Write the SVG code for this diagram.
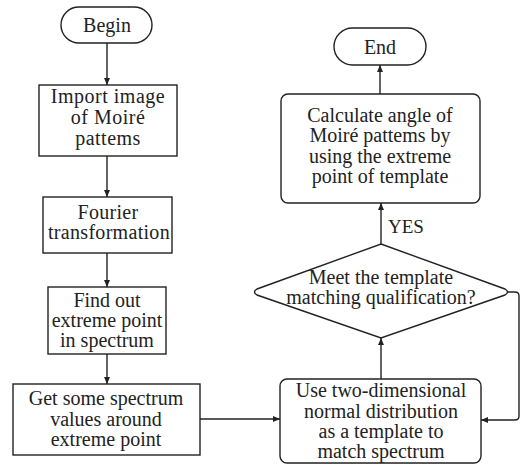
<svg xmlns="http://www.w3.org/2000/svg" width="521" height="466" viewBox="0 0 521 466">
  <defs>
    <style>
      .shape { fill: #fff; stroke: #222; stroke-width: 1.4; }
      .conn { fill: none; stroke: #222; stroke-width: 1.4; }
      text { font-family: "Liberation Serif", "Times New Roman", serif; font-size: 20px; fill: #222; text-anchor: middle; }
    </style>
    <marker id="arr" markerWidth="8" markerHeight="8" refX="7" refY="4" orient="auto" markerUnits="userSpaceOnUse">
      <path d="M0,1 L7,4 L0,7 Z" fill="#222"/>
    </marker>
  </defs>
  <rect width="521" height="466" fill="#fff"/>

  <g id="connectors">
    <line class="conn" x1="107" y1="43" x2="107" y2="85" marker-end="url(#arr)"/>
    <line class="conn" x1="107" y1="156" x2="107" y2="197" marker-end="url(#arr)"/>
    <line class="conn" x1="107" y1="253" x2="107" y2="287" marker-end="url(#arr)"/>
    <line class="conn" x1="107" y1="354" x2="107" y2="384" marker-end="url(#arr)"/>
    <line class="conn" x1="200" y1="419" x2="280" y2="419" marker-end="url(#arr)"/>
    <line class="conn" x1="381" y1="379" x2="381" y2="338" marker-end="url(#arr)"/>
    <line class="conn" x1="381" y1="244" x2="381" y2="203" marker-end="url(#arr)"/>
    <line class="conn" x1="380" y1="94" x2="380" y2="65" marker-end="url(#arr)"/>
    <path class="conn" d="M508,292 H515 Q519,292 519,296 V416 Q519,420 515,420 H481" marker-end="url(#arr)"/>
    <text x="406" y="233" style="font-size:19px">YES</text>
  </g>

  <g id="begin">
    <rect class="shape" x="61" y="7" width="91" height="36" rx="18" ry="18"/>
    <text x="107" y="32">Begin</text>
  </g>

  <g id="import">
    <rect class="shape" x="39" y="85" width="138" height="71"/>
    <text x="108" y="103" letter-spacing="0.5">Import image</text>
    <text x="108" y="124" letter-spacing="0.5">of Moiré</text>
    <text x="108" y="145" letter-spacing="0.5">pattems</text>
  </g>

  <g id="fourier">
    <rect class="shape" x="43" y="197" width="129" height="56"/>
    <text x="108" y="219" letter-spacing="0.3">Fourier</text>
    <text x="109" y="239" letter-spacing="0.3">transformation</text>
  </g>

  <g id="find">
    <rect class="shape" x="48" y="287" width="118" height="67"/>
    <text x="107" y="307">Find out</text>
    <text x="107" y="327">extreme point</text>
    <text x="107" y="347">in spectrum</text>
  </g>

  <g id="get">
    <rect class="shape" x="13" y="384" width="187" height="71"/>
    <text x="106" y="405">Get some spectrum</text>
    <text x="106" y="426">values around</text>
    <text x="106" y="446">extreme point</text>
  </g>

  <g id="use">
    <rect class="shape" x="280" y="379" width="201" height="84" rx="7" ry="7"/>
    <text x="381" y="397">Use two-dimensional</text>
    <text x="381" y="418">normal distribution</text>
    <text x="381" y="438">as a template to</text>
    <text x="381" y="458">match spectrum</text>
  </g>

  <g id="decision">
    <path class="shape" d="M381,244 L505,289 Q510,292 505,295 L381,338 L257,295 Q252,292 257,289 Z"/>
    <text x="381" y="284">Meet the template</text>
    <text x="381" y="304">matching qualification?</text>
  </g>

  <g id="calculate">
    <rect class="shape" x="281" y="94" width="199" height="109" rx="7" ry="7"/>
    <text x="380" y="122">Calculate angle of</text>
    <text x="380" y="142">Moiré pattems by</text>
    <text x="380" y="163">using the extreme</text>
    <text x="380" y="183">point of template</text>
  </g>

  <g id="end">
    <rect class="shape" x="334" y="28" width="92" height="37" rx="18.5" ry="18.5"/>
    <text x="380" y="54">End</text>
  </g>
</svg>
